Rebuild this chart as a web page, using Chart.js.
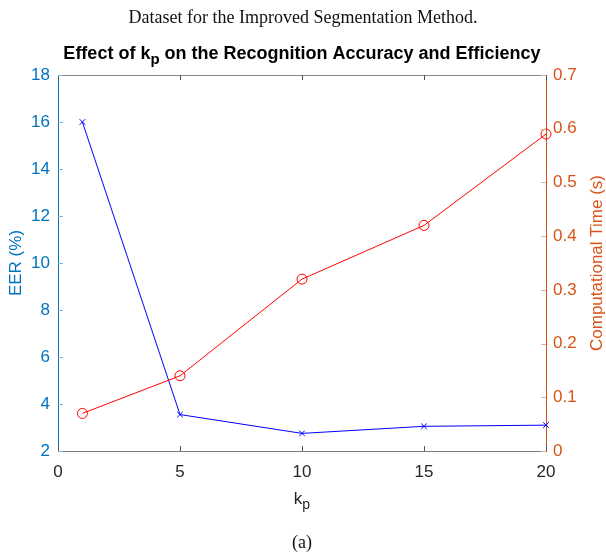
<!DOCTYPE html>
<html>
<head>
<meta charset="utf-8">
<script src="https://cdn.jsdelivr.net/npm/chart.js@4"></script>
<style>
  body { margin: 0; background: #fff; }
  #wrap { position: relative; width: 606px; height: 559px; overflow: hidden; }
  #chart { position: absolute; left: 0; top: 0; }
  .cap { position: absolute; left: 0; width: 606px; text-align: center;
         font-family: 'Liberation Serif', 'Times New Roman', serif; font-size: 18px; color: #111; }
</style>
</head>
<body>
<div id="wrap">
  <canvas id="chart" width="606" height="559"></canvas>
  <div class="cap" style="top:7px;">Dataset for the Improved Segmentation Method.</div>
  <div class="cap" style="top:532px;left:0;width:604px;">(a)</div>
</div>
<script>
// --- data ---
const kpValues = [1, 5, 10, 15, 20];
const eerValues = [16, 3.55, 2.75, 3.05, 3.1];
const timeValues = [0.07, 0.14, 0.32, 0.42, 0.59];
const xTicks = [0, 5, 10, 15, 20];

const BLUE_AX = '#0072BD';
const ORANGE_AX = '#D95319';
const FONT = "'Liberation Sans', Arial, sans-serif";

// draws the matlab-ish bits chart.js doesn't do: inward ticks, box top, subscripted texts
const matlabBits = {
  id: 'matlabBits',
  afterDraw(chart) {
    const { ctx, chartArea: a, scales } = chart;
    ctx.save();
    ctx.lineWidth = 1;

    // top box line
    ctx.strokeStyle = '#8a8a8a';
    ctx.beginPath();
    ctx.moveTo(a.left, a.top + 0.5);
    ctx.lineTo(a.right, a.top + 0.5);
    ctx.stroke();

    // x ticks, bottom + top
    ctx.strokeStyle = '#555';
    scales.x.ticks.forEach(t => {
      const x = Math.round(scales.x.getPixelForValue(t.value)) + 0.5;
      ctx.beginPath();
      ctx.moveTo(x, a.bottom); ctx.lineTo(x, a.bottom - 5);
      ctx.moveTo(x, a.top); ctx.lineTo(x, a.top + 5);
      ctx.stroke();
    });
    // left ticks
    ctx.strokeStyle = '#7fb3da';
    scales.y.ticks.forEach(t => {
      const y = Math.round(scales.y.getPixelForValue(t.value)) + 0.5;
      ctx.beginPath(); ctx.moveTo(a.left, y); ctx.lineTo(a.left + 5, y); ctx.stroke();
    });
    // right ticks
    ctx.strokeStyle = '#ebab8e';
    scales.y2.ticks.forEach(t => {
      const y = Math.round(scales.y2.getPixelForValue(t.value)) + 0.5;
      ctx.beginPath(); ctx.moveTo(a.right, y); ctx.lineTo(a.right - 5, y); ctx.stroke();
    });

    // axis titles, both read bottom-to-top
    const cy = (a.top + a.bottom) / 2;
    ctx.font = '17px ' + FONT;
    ctx.textAlign = 'center';
    ctx.textBaseline = 'middle';
    ctx.fillStyle = BLUE_AX;
    ctx.save(); ctx.translate(16, cy); ctx.rotate(-Math.PI / 2); ctx.fillText('EER (%)', 0, 0); ctx.restore();
    ctx.fillStyle = ORANGE_AX;
    ctx.save(); ctx.translate(597, cy); ctx.rotate(-Math.PI / 2); ctx.fillText('Computational Time (s)', 0, 0); ctx.restore();

    // title with subscript
    const cx = (a.left + a.right) / 2;
    const parts = ['Effect of k', 'p', ' on the Recognition Accuracy and Efficiency'];
    ctx.fillStyle = '#000';
    ctx.textBaseline = 'alphabetic';
    ctx.textAlign = 'left';
    const big = 'bold 18px ' + FONT, small = 'bold 15px ' + FONT;
    ctx.font = big; const w0 = ctx.measureText(parts[0]).width, w2 = ctx.measureText(parts[2]).width;
    ctx.font = small; const w1 = ctx.measureText(parts[1]).width;
    let x = cx - (w0 + w1 + w2) / 2;
    const ty = 59;
    ctx.font = big; ctx.fillText(parts[0], x, ty); x += w0;
    ctx.font = small; ctx.fillText(parts[1], x, ty + 5); x += w1;
    ctx.font = big; ctx.fillText(parts[2], x, ty);

    // x label k_p
    ctx.fillStyle = '#262626';
    ctx.font = '17px ' + FONT;
    const kw = ctx.measureText('k').width;
    ctx.font = '14px ' + FONT;
    const pw = ctx.measureText('p').width;
    let lx = cx - (kw + pw) / 2;
    ctx.font = '17px ' + FONT; ctx.fillText('k', lx, 504);
    ctx.font = '14px ' + FONT; ctx.fillText('p', lx + kw, 509);

    ctx.restore();
  }
};

new Chart(document.getElementById('chart'), {
  type: 'line',
  data: {
    datasets: [
      {
        label: 'Computational Time',
        data: kpValues.map((k, i) => ({ x: k, y: timeValues[i] })),
        yAxisID: 'y2',
        borderColor: '#ff0000',
        backgroundColor: 'rgba(0,0,0,0)',
        borderWidth: 1,
        pointStyle: 'circle',
        pointRadius: 5,
        pointBorderWidth: 1,
        pointBorderColor: '#ff0000',
        tension: 0,
        clip: false
      },
      {
        label: 'EER',
        data: kpValues.map((k, i) => ({ x: k, y: eerValues[i] })),
        yAxisID: 'y',
        borderColor: '#0000ff',
        backgroundColor: 'rgba(0,0,0,0)',
        borderWidth: 1,
        pointStyle: 'crossRot',
        pointRadius: 4,
        pointBorderWidth: 1,
        pointBorderColor: '#0000ff',
        tension: 0,
        clip: false
      }
    ]
  },
  options: {
    responsive: false,
    animation: false,
    layout: { padding: { top: 75, left: 0, right: 0, bottom: 0 } },
    plugins: { legend: { display: false }, tooltip: { enabled: false }, title: { display: false } },
    scales: {
      x: {
        type: 'linear', min: 0, max: 20,
        afterBuildTicks: s => { s.ticks = xTicks.map(v => ({ value: v })); },
        afterFit: s => { s.height = 108; },
        grid: { display: false, drawTicks: false },
        border: { display: true, color: '#7a7a7a', width: 1 },
        ticks: { color: '#262626', padding: 11, font: { family: FONT, size: 17 }, maxRotation: 0 }
      },
      y: {
        position: 'left', min: 2, max: 18,
        ticks: { stepSize: 2, color: BLUE_AX, padding: 8, font: { family: FONT, size: 17 } },
        afterFit: s => { s.width = 58; },
        grid: { display: false, drawTicks: false },
        border: { display: true, color: BLUE_AX, width: 1 }
      },
      y2: {
        position: 'right', min: 0, max: 0.7,
        ticks: { stepSize: 0.1, color: ORANGE_AX, padding: 7, font: { family: FONT, size: 17 } },
        afterFit: s => { s.width = 60; },
        grid: { display: false, drawTicks: false },
        border: { display: true, color: ORANGE_AX, width: 1 }
      }
    }
  },
  plugins: [matlabBits]
});
</script>
</body>
</html>
